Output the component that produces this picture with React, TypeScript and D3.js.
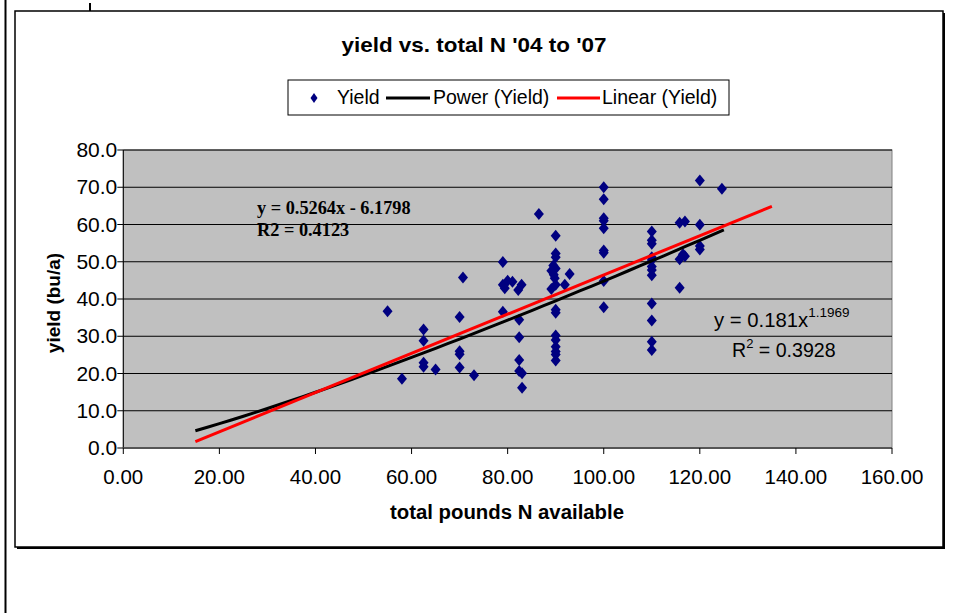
import React from "react";
import * as d3 from "d3";

const nitrogen = [
  55, 58, 62.5, 62.5, 62.5, 62.5, 65, 70, 70, 70, 70, 70.7, 73,
  79, 79, 80, 79.4, 81, 82.9, 82.2, 79, 82.4, 82.4, 82.4, 82.4, 83, 83,
  86.5, 90, 90, 90, 89.5, 90, 89.1, 89.6, 89.8, 90, 89.1, 92.9, 91.9, 90, 90, 90, 90, 90, 90, 90, 90,
  100, 100, 100, 100, 100, 100, 100, 100, 100,
  110, 110, 110, 110, 110, 110, 110, 110, 110, 110, 110, 110,
  115.8, 116.9, 120, 120, 115.8, 116.9, 116.5, 120, 120, 115.8, 124.6,
];
const yieldVals = [
  36.7, 18.6, 31.8, 28.8, 22.9, 21.8, 21.1, 35.2, 26.0, 25.2, 21.6, 45.8, 19.5,
  49.9, 43.8, 44.9, 42.9, 44.6, 43.8, 42.4, 36.6, 34.4, 29.7, 23.6, 20.7, 20.1, 16.2,
  62.8, 57.0, 52.2, 51.2, 49.0, 48.2, 47.6, 46.5, 45.6, 43.8, 42.7, 46.7, 43.8, 37.1, 36.3, 30.2, 29.0, 27.2, 25.9, 25.1, 23.5,
  70.0, 66.8, 61.7, 61.0, 59.0, 53.0, 52.4, 44.8, 37.8,
  58.1, 55.8, 54.8, 51.2, 50.5, 48.7, 47.8, 46.4, 38.8, 34.2, 28.5, 26.3,
  60.5, 60.8, 59.9, 71.8, 50.7, 51.5, 52.0, 54.2, 53.3, 43.0, 69.6,
];
const xTicks = [0, 20, 40, 60, 80, 100, 120, 140, 160];
const yTicks = [0, 10, 20, 30, 40, 50, 60, 70, 80];
const linearCoef = { slope: 0.5264, intercept: -6.1798, from: 15, to: 135 };
const powerCoef = { a: 0.181, b: 1.1969, from: 15, to: 125 };

const W = 954;
const H = 613;
const PL = 123.3, PR = 892, PT = 150, PB = 448;

export default function App() {
  const x = d3.scaleLinear().domain([0, 160]).range([PL, PR]);
  const y = d3.scaleLinear().domain([0, 80]).range([PB, PT]);

  const linPts: [number, number][] = [linearCoef.from, linearCoef.to].map((v) => [
    v,
    linearCoef.slope * v + linearCoef.intercept,
  ]);
  const powPts: [number, number][] = d3
    .range(powerCoef.from, powerCoef.to + 0.001, 2.5)
    .map((v) => [v, powerCoef.a * Math.pow(v, powerCoef.b)]);
  const line = d3
    .line<[number, number]>()
    .x((d) => x(d[0]))
    .y((d) => y(d[1]));

  const diamond = (cx: number, cy: number, w: number, h: number) =>
    `M${cx},${cy - h / 2}L${cx + w / 2},${cy}L${cx},${cy + h / 2}L${cx - w / 2},${cy}Z`;

  const font = "Arial, 'Liberation Sans', sans-serif";
  const serif = "'Liberation Serif', 'Times New Roman', serif";

  return (
    <svg
      width={W}
      height={H}
      style={{ position: "absolute", left: 0, top: 0, background: "#fff" }}
      fontFamily={font}
    >
      {/* page marks */}
      <line x1={5.5} x2={5.5} y1={0} y2={H} stroke="#000" strokeWidth={2} />
      <line x1={90} x2={90} y1={3} y2={11} stroke="#000" strokeWidth={2} />
      {/* chart frame with shadow */}
      <rect x={17} y={13} width={928} height={536} fill="#000" />
      <rect x={15} y={11} width={928} height={536} fill="#fff" stroke="#000" strokeWidth={1.5} />

      {/* title */}
      <text x={474} y={52} textAnchor="middle" fontWeight="bold" fontSize={21} textLength={265} lengthAdjust="spacingAndGlyphs">
        yield vs. total N '04 to '07
      </text>

      {/* legend */}
      <rect x={288} y={80} width={441} height={35} fill="#fff" stroke="#000" strokeWidth={1} />
      <path d={diamond(314, 98, 7, 10)} fill="#000080" />
      <text x={337} y={104} fontSize={19.5}>Yield</text>
      <line x1={386} x2={430} y1={98} y2={98} stroke="#000" strokeWidth={3} />
      <text x={433} y={104} fontSize={19.5}>Power (Yield)</text>
      <line x1={557} x2={600} y1={98} y2={98} stroke="#ff0000" strokeWidth={3} />
      <text x={602} y={104} fontSize={19.5}>Linear (Yield)</text>

      {/* plot area */}
      <rect x={PL} y={PT} width={PR - PL} height={PB - PT} fill="#C0C0C0" stroke="#808080" strokeWidth={1} />
      {yTicks.slice(1).map((t) => (
        <line key={"g" + t} x1={PL} x2={PR} y1={y(t)} y2={y(t)} stroke="#000" strokeWidth={1} />
      ))}

      {/* axes */}
      <line x1={PL} x2={PL} y1={PT} y2={PB} stroke="#000" strokeWidth={1} />
      <line x1={PL} x2={PR} y1={PB} y2={PB} stroke="#555" strokeWidth={2} />
      {yTicks.map((t) => (
        <g key={"y" + t}>
          <line x1={PL - 6} x2={PL} y1={y(t)} y2={y(t)} stroke="#000" />
          <text x={PL - 6} y={y(t) + 7} textAnchor="end" fontSize={21}>
            {t.toFixed(1)}
          </text>
        </g>
      ))}
      {xTicks.map((t) => (
        <g key={"x" + t}>
          <line x1={x(t)} x2={x(t)} y1={PB} y2={PB + 6} stroke="#000" />
          <text x={x(t)} y={484} textAnchor="middle" fontSize={20.5}>
            {t.toFixed(2)}
          </text>
        </g>
      ))}

      {/* points */}
      {nitrogen.map((n, i) => (
        <path key={"p" + i} d={diamond(x(n), y(yieldVals[i]), 10, 12)} fill="#000080" />
      ))}

      {/* trendlines */}
      <path d={line(powPts) || ""} fill="none" stroke="#000" strokeWidth={3} />
      <path d={line(linPts) || ""} fill="none" stroke="#ff0000" strokeWidth={3} />

      {/* equations */}
      <text x={257} y={214} fontFamily={serif} fontWeight="bold" fontSize={18.3}>
        y = 0.5264x - 6.1798
      </text>
      <text x={257} y={236} fontFamily={serif} fontWeight="bold" fontSize={18.3}>
        R2 = 0.4123
      </text>
      <text x={714} y={327} fontSize={20.3}>
        y = 0.181x
        <tspan dy={-10} fontSize={13.5}>1.1969</tspan>
      </text>
      <text x={732} y={357} fontSize={19.6}>
        R<tspan dy={-9} fontSize={13}>2</tspan>
        <tspan dy={9}> = 0.3928</tspan>
      </text>

      {/* axis titles */}
      <text x={507} y={519} textAnchor="middle" fontWeight="bold" fontSize={20} textLength={234} lengthAdjust="spacingAndGlyphs">
        total pounds N available
      </text>
      <text
        transform={`translate(60,${(PT + PB) / 2 + 4}) rotate(-90)`}
        textAnchor="middle"
        fontWeight="bold"
        fontSize={19}
      >
        yield (bu/a)
      </text>
    </svg>
  );
}
